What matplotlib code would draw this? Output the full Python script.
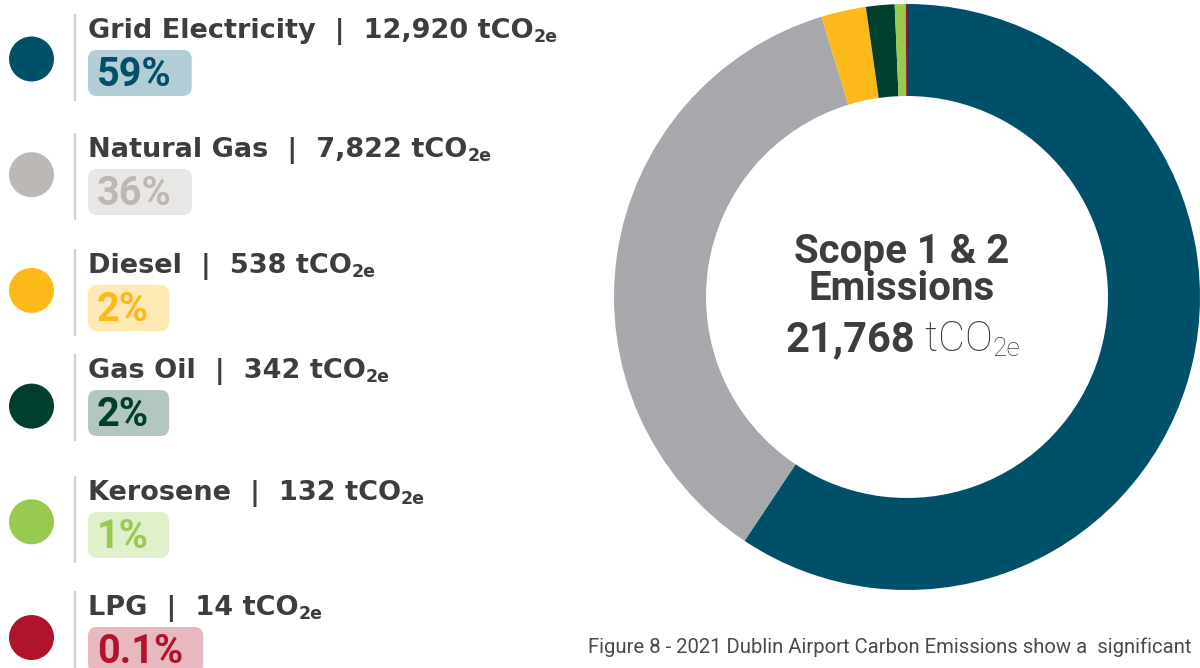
import matplotlib.pyplot as plt
from matplotlib.patches import Circle, FancyBboxPatch

# Scope 1 & 2 emissions by source, tCO2e
SOURCES = ["Grid Electricity", "Natural Gas", "Diesel", "Gas Oil", "Kerosene", "LPG"]
EMISSIONS = [12920, 7822, 538, 342, 132, 14]
SHARE_LABELS = ["59%", "36%", "2%", "2%", "1%", "0.1%"]
TOTAL_LABEL = "21,768"

DONUT_COLORS = ["#00506A", "#A6A8AB", "#FDB81A", "#003F2D", "#97CA4F", "#B1132B"]
DOT_COLORS = ["#00506A", "#BDB8B3", "#FDB81A", "#003F2D", "#97CA4F", "#B1132B"]
BADGE_COLORS = ["#B3CDD6", "#E9E7E5", "#FEE8B4", "#B3C6BF", "#DFF0CB", "#E7B8C0"]

# legend layout (pixels from the top): label baselines don't sit on a fixed grid
LABEL_BASELINES = [38, 157, 273, 378, 500, 615]

TEXT = "#3D3D3D"
plt.rcParams["font.family"] = ["Roboto", "DejaVu Sans"]
LABEL_FONT = ["DejaVu Sans"]

fig = plt.figure(figsize=(12, 6.68), dpi=100)
ax = fig.add_axes([0, 0, 1, 1])
renderer = fig.canvas.get_renderer()


def text_runs(x, y, runs, color=TEXT, ha="left", family=None):
    """Lay out (text, size, weight, dy) pieces one after another on a baseline."""
    items = []
    for s, size, weight, dy in runs:
        kw = {"family": family} if family else {}
        t = ax.text(0, y + dy, s, fontsize=size, fontweight=weight, color=color,
                    va="baseline", ha="left", **kw)
        items.append((t, t.get_window_extent(renderer).width))
    total = sum(w for _, w in items)
    cx = x - total / 2 if ha == "center" else x
    for t, w in items:
        t.set_x(cx)
        cx += w
    return cx


# donut, drawn in pixel coordinates (y grows downwards)
ax.pie(EMISSIONS, colors=DONUT_COLORS, startangle=-90, counterclock=True,
       radius=293, center=(907, 297), wedgeprops=dict(width=92, linewidth=0))

text_runs(902, 263, [("Scope 1 & 2", 29, "bold", 0)], ha="center")
text_runs(902, 300, [("Emissions", 29, "bold", 0)], ha="center")
text_runs(903, 351, [(TOTAL_LABEL, 30, "bold", 0), (" tCO", 30, "light", 0),
                     ("2e", 19, "light", 5)], ha="center")

# legend column
for i, src in enumerate(SOURCES):
    cy = 59 + i * 115.7
    by = LABEL_BASELINES[i]
    ax.add_patch(Circle((31.5, cy), 22.5, color=DOT_COLORS[i], lw=0))
    ax.plot([75, 75], [by - 24, by + 63], color="#D3CFCB", lw=1.6,
            solid_capstyle="butt")

    label = f"{src}  |  {EMISSIONS[i]:,} tCO"
    text_runs(88, by, [(label, 19.5, "bold", 0), ("2e", 12.5, "bold", 4)],
              family=LABEL_FONT)

    pct = ax.text(97, by + 48, SHARE_LABELS[i], fontsize=28.5, fontweight="bold",
                  color=DOT_COLORS[i], va="baseline", ha="left", zorder=3)
    w = pct.get_window_extent(renderer).width
    ax.add_patch(FancyBboxPatch((88, by + 12), w + 29, 46,
                                boxstyle="round,pad=0,rounding_size=9",
                                fc=BADGE_COLORS[i], ec="none", zorder=2))

ax.text(588, 653, "Figure 8 - 2021 Dublin Airport Carbon Emissions show a  significant",
        fontsize=14.6, color="#4A4A4A", va="baseline", ha="left")

ax.set_xlim(0, 1200)
ax.set_ylim(668, 0)
ax.axis("off")

fig.savefig("out.png", dpi=100)
